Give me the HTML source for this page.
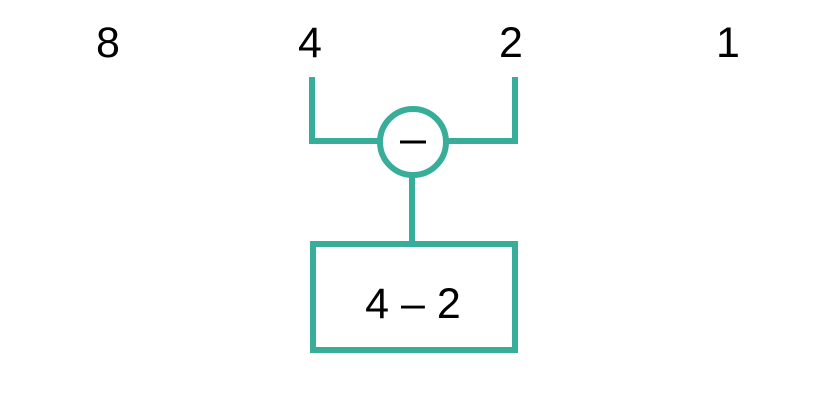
<!DOCTYPE html>
<html><head><meta charset="utf-8"><style>html,body{margin:0;padding:0;background:#fff}svg{display:block}</style></head>
<body>
<svg width="840" height="420" viewBox="0 0 840 420" xmlns="http://www.w3.org/2000/svg">
<g font-family="'Liberation Sans', sans-serif" font-size="43" fill="#000" text-anchor="middle">
<text x="108" y="57">8</text>
<text x="310" y="57">4</text>
<text x="511" y="57">2</text>
<text x="728" y="57">1</text>
</g>
<g stroke="#38ae9a" stroke-width="6" fill="none">
<polyline points="312,77 312,141 379,141"/>
<polyline points="515,77 515,141 447,141"/>
<circle cx="413" cy="142" r="33" fill="#fff"/>
<line x1="412" y1="176" x2="412" y2="243"/>
<rect x="313" y="244" width="202" height="106"/>
</g>
<line x1="400" y1="142" x2="426" y2="142" stroke="#000" stroke-width="3"/>
<text x="413" y="318" font-family="'Liberation Sans', sans-serif" font-size="43" text-anchor="middle">4 – 2</text>
</svg>
</body></html>
